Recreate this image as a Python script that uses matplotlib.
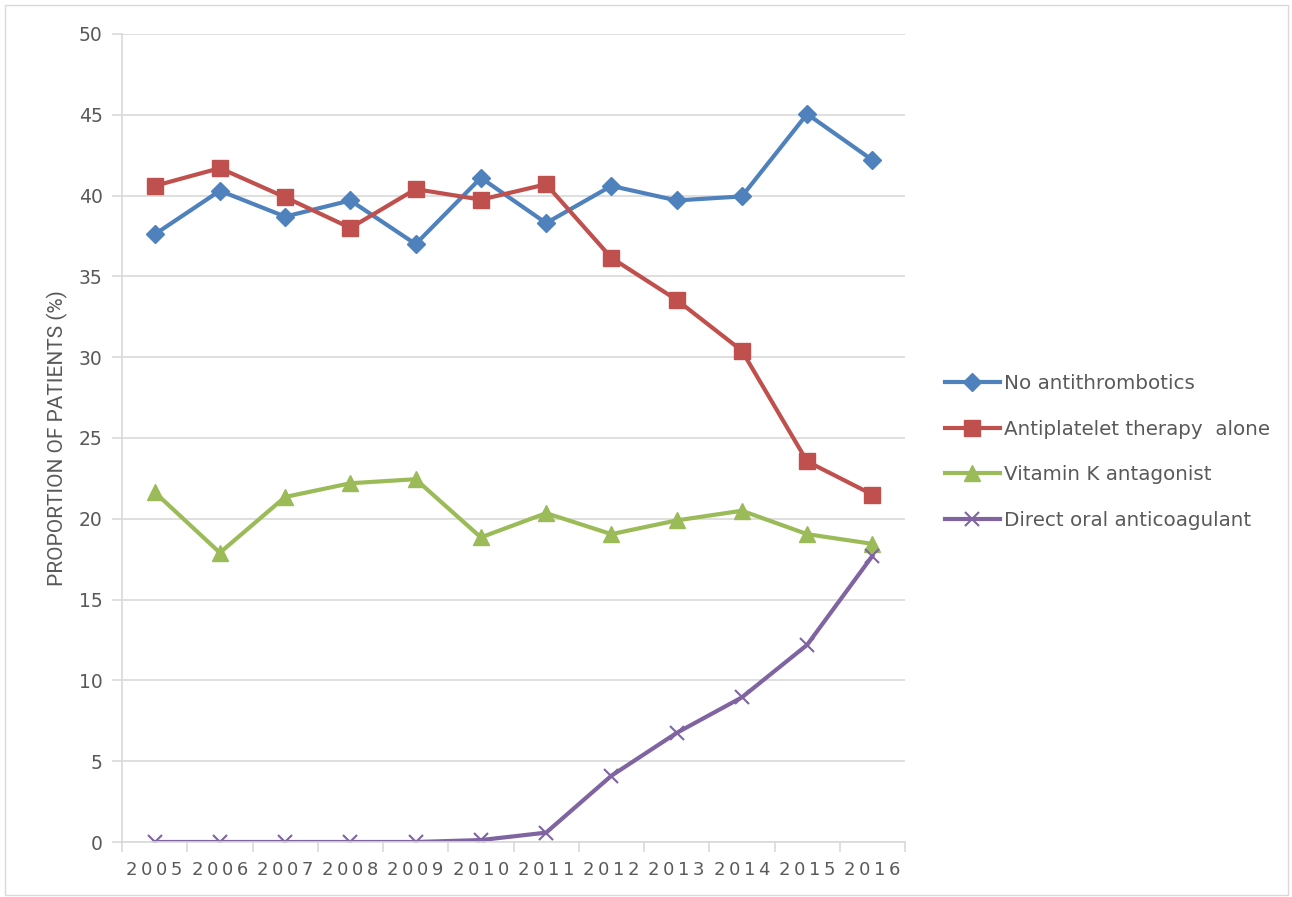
import numpy as np
import matplotlib.pyplot as plt
from matplotlib.patches import Rectangle

years = ['2005', '2006', '2007', '2008', '2009', '2010',
         '2011', '2012', '2013', '2014', '2015', '2016']
no_antithrombotics = [37.6, 40.3, 38.7, 39.7, 37.0, 41.1, 38.3, 40.6, 39.7, 39.95, 45.05, 42.2]
antiplatelet_alone = [40.6, 41.7, 39.9, 38.0, 40.4, 39.75, 40.7, 36.15, 33.55, 30.4, 23.55, 21.5]
vitamin_k = [21.65, 17.9, 21.35, 22.2, 22.45, 18.85, 20.35, 19.05, 19.9, 20.5, 19.05, 18.45]
doac = [0.0, 0.0, 0.0, 0.0, 0.0, 0.12, 0.58, 4.1, 6.75, 8.95, 12.2, 17.7]

names = ['No antithrombotics', 'Antiplatelet therapy  alone',
         'Vitamin K antagonist', 'Direct oral anticoagulant']

grey = '#595959'

fig = plt.figure(figsize=(12.92, 8.97), dpi=100)
ax = fig.add_axes([122 / 1292, 1 - 842 / 897, (905 - 122) / 1292, (842 - 34) / 897])

x = np.arange(len(years))
ax.plot(x, no_antithrombotics, color='#4F81BD', lw=3, marker='D', ms=9, label=names[0])
ax.plot(x, antiplatelet_alone, color='#C0504D', lw=3, marker='s', ms=11.5, label=names[1])
ax.plot(x, vitamin_k, color='#9BBB59', lw=3, marker='^', ms=12, label=names[2])
ax.plot(x, doac, color='#8064A2', lw=3, marker='x', ms=10, mew=1.5, label=names[3])

ax.set_xlim(-0.5, len(years) - 0.5)
ax.set_ylim(0, 50)
ax.set_yticks(np.arange(0, 51, 5))
ax.set_xticks(x)
# letter-spaced year labels like the original
ax.set_xticklabels(['\u2009'.join(y) for y in years])
ax.set_xticks(np.arange(-0.5, len(years), 1), minor=True)
ax.tick_params(axis='x', which='major', length=0, pad=14, labelsize=13, labelcolor=grey)
ax.tick_params(axis='x', which='minor', length=7, color='#D9D9D9', width=1.2)
ax.tick_params(axis='y', length=7, color='#D9D9D9', width=1.2, pad=7, labelsize=13.5, labelcolor=grey)

ax.grid(axis='y', color='#D9D9D9', lw=1.2)
ax.set_axisbelow(True)
for s in ['top', 'right']:
    ax.spines[s].set_visible(False)
for s in ['left', 'bottom']:
    ax.spines[s].set_color('#D9D9D9')
    ax.spines[s].set_linewidth(1.2)

ax.set_ylabel('PROPORTION OF PATIENTS (%)', fontsize=15, color=grey,
              family=['Roboto', 'DejaVu Sans'], labelpad=8)

fig.legend(loc='center left', bbox_to_anchor=(945 / 1292, 1 - 452 / 897),
           frameon=False, fontsize=14.3, labelcolor=grey, handlelength=2.75,
           handletextpad=0.2, labelspacing=1.33, borderpad=0, borderaxespad=0)

fig.patches.append(Rectangle((5 / 1292, 2 / 897), 1283 / 1292, 890 / 897,
                             transform=fig.transFigure, fill=False,
                             edgecolor='#D9D9D9', lw=1))

fig.savefig('out.png', dpi=100)
